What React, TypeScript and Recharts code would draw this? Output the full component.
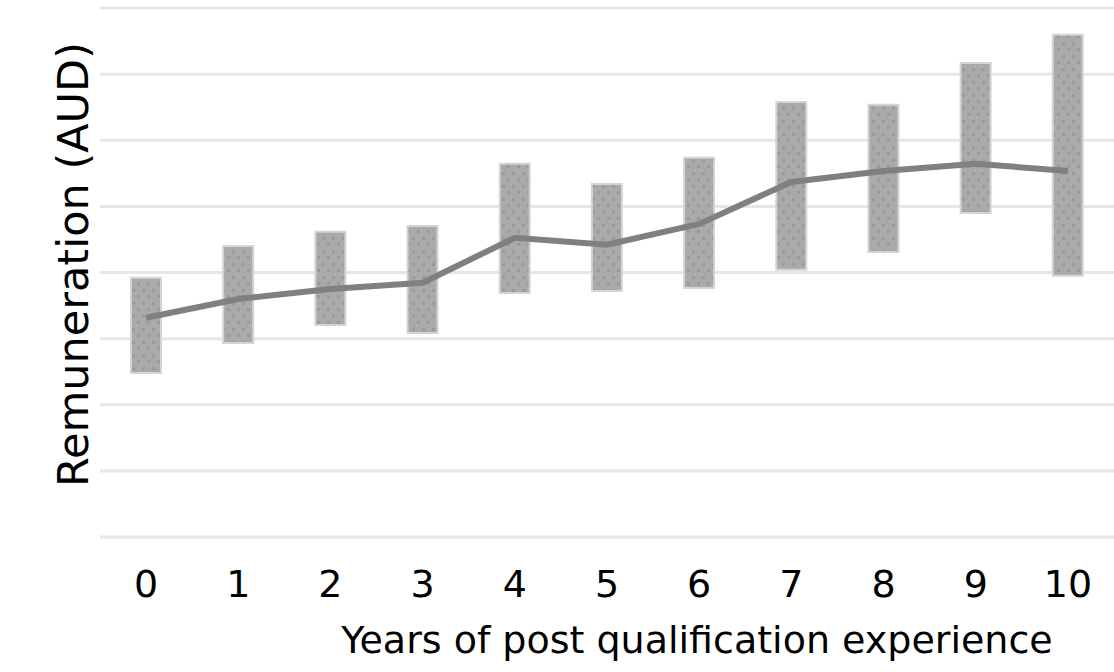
import React from "react";
import {
  ComposedChart,
  Bar,
  Line,
  XAxis,
  YAxis,
  CartesianGrid,
  Label,
} from "recharts";

// years of post qualification experience
const years = ["0", "1", "2", "3", "4", "5", "6", "7", "8", "9", "10"];
// remuneration range (thousand AUD)
const lowValues = [49.6, 58.7, 64.1, 61.7, 73.8, 74.4, 75.3, 80.8, 86.2, 98.0, 79.0];
const highValues = [78.4, 88.0, 92.3, 94.1, 112.9, 106.8, 114.7, 131.6, 130.7, 143.4, 151.9];
const medianValues = [66.3, 72.0, 75.0, 76.9, 90.5, 88.4, 94.7, 107.4, 110.7, 112.9, 110.7];
const yTicks = [0, 20, 40, 60, 80, 100, 120, 140, 160];

const data = years.map((year, i) => ({
  year,
  range: [lowValues[i], highValues[i]],
  median: medianValues[i],
}));

const font = "'DejaVu Sans', sans-serif";

export default function App() {
  return (
    <div style={{ position: "absolute", left: 0, top: 0, background: "#fff" }}>
      <ComposedChart
        width={1114}
        height={672}
        data={data}
        margin={{ top: 8, right: 0, bottom: 0, left: 0 }}
      >
        <defs>
          <pattern id="dots" width="10" height="13" patternUnits="userSpaceOnUse">
            <rect width="10" height="13" fill="#aaaaaa" />
            <rect x="2" y="3" width="3" height="3" fill="#9a9a9a" />
            <rect x="7" y="9" width="3" height="3" fill="#9a9a9a" />
          </pattern>
        </defs>
        <CartesianGrid vertical={false} stroke="#e6e6e6" strokeWidth={3} />
        <XAxis
          dataKey="year"
          height={135}
          axisLine={false}
          tickLine={false}
          tickMargin={27}
          tick={{ fontSize: 38, fill: "#000", fontFamily: font }}
        >
          <Label
            value="Years of post qualification experience"
            position="insideBottom"
            offset={19}
            dx={90}
            style={{ fontSize: 38, fill: "#000", fontFamily: font }}
          />
        </XAxis>
        <YAxis
          width={100}
          domain={[0, 160]}
          ticks={yTicks}
          tickFormatter={() => ""}
          axisLine={false}
          tickLine={false}
        >
          <Label
            value="Remuneration (AUD)"
            angle={-90}
            position="insideLeft"
            offset={0}
            dx={73}
            dy={-8}
            style={{ fontSize: 43, fill: "#000", fontFamily: font, textAnchor: "middle" }}
          />
        </YAxis>
        <Bar
          dataKey="range"
          barSize={30}
          fill="url(#dots)"
          stroke="#d4d4d4"
          strokeWidth={2}
          isAnimationActive={false}
        />
        <Line
          type="linear"
          dataKey="median"
          stroke="#808080"
          strokeWidth={6}
          dot={false}
          isAnimationActive={false}
        />
      </ComposedChart>
    </div>
  );
}
